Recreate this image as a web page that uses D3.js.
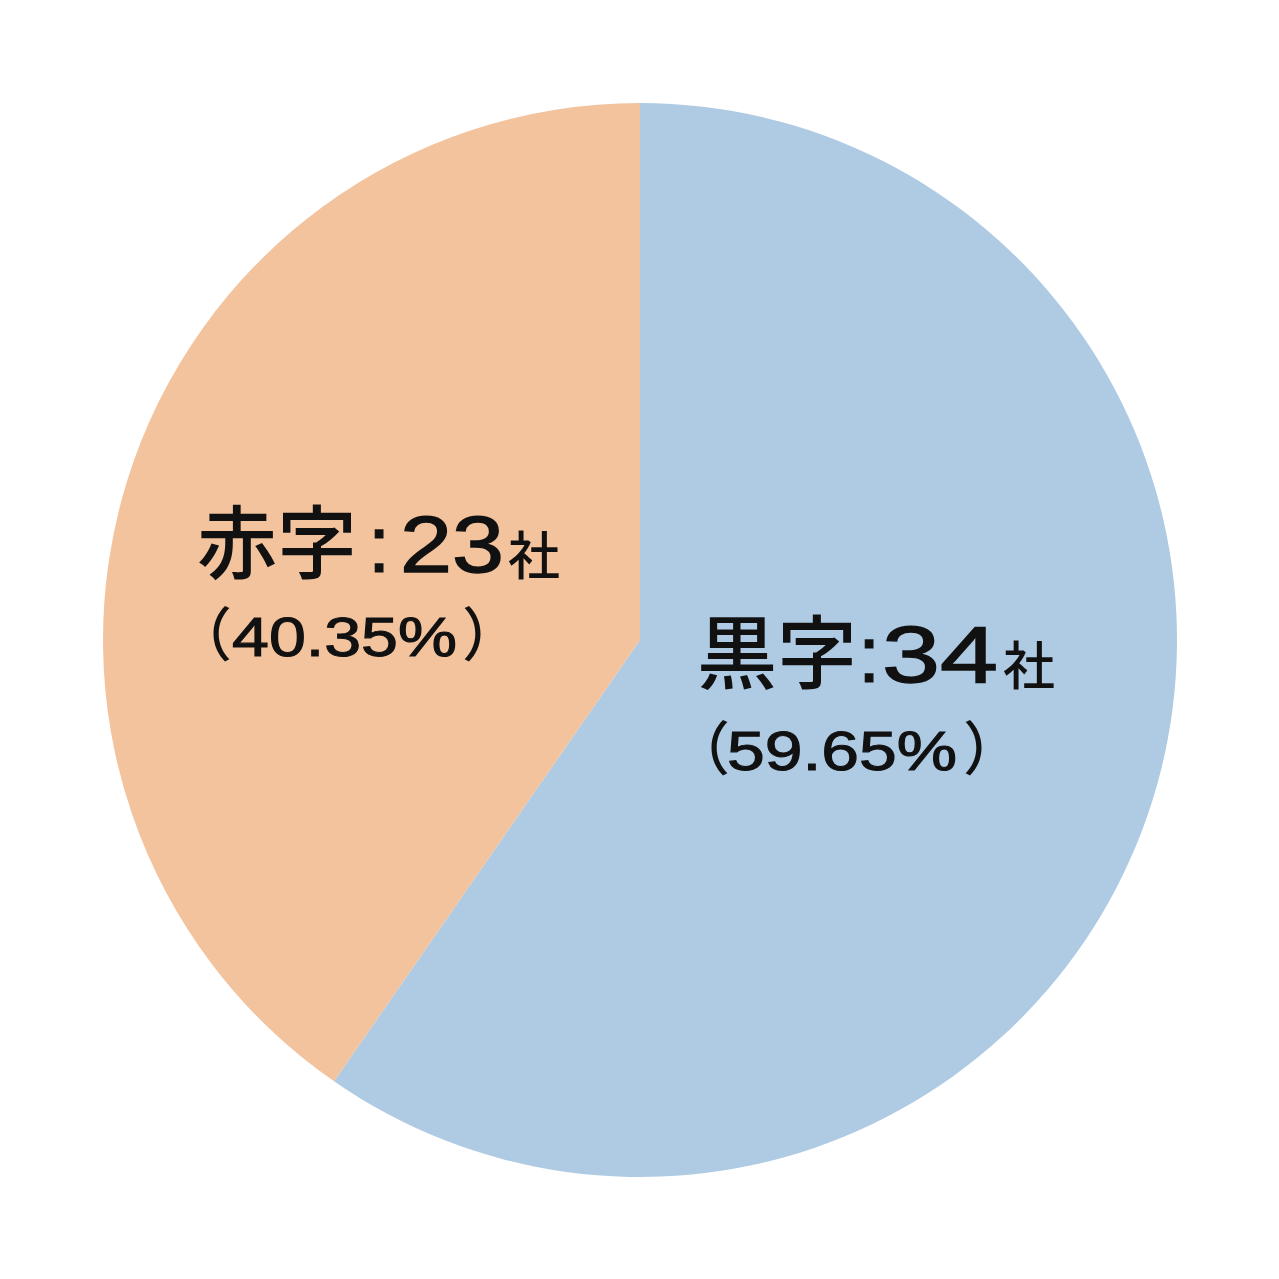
<!DOCTYPE html>
<html><head><meta charset="utf-8">
<script src="https://cdn.jsdelivr.net/npm/d3@7"></script>
<style>html,body{margin:0;padding:0;background:#fff;}svg{display:block;}</style>
</head><body>
<script>
const categories = ["黒字", "赤字"];
const counts = [34, 23];
const percents = ["59.65%", "40.35%"];
const unit = "社";
const colors = ["#AFCBE4", "#F3C39D"];

const W = 1279, H = 1279, cx = 640, cy = 640, R = 537;
const svg = d3.select("body").append("svg").attr("width", W).attr("height", H);
const g = svg.append("g").attr("transform", `translate(${cx},${cy})`);

const pie = d3.pie().sort(null).value(d => d)(counts);
const arc = d3.arc().innerRadius(0).outerRadius(R);
g.selectAll("path").data(pie).join("path")
  .attr("d", arc).attr("fill", (d, i) => colors[i]);

// label layout (relative to chart centre): left edge of first glyph, baselines
const layout = [
  {x: 57, y1: 42, y2: 130, colon: 218, num: 242, numLen: 116, sha: 363, p1: 90, pct: 87, pctLen: 230, p2: 323},
  {x: -443, y1: -68, y2: 16, colon: -272, num: -240, numLen: 104, sha: -132, p1: -408, pct: -408, pctLen: 225, p2: -178}
];
const CJK = "'Noto Sans CJK JP', sans-serif";
const LAT = "'Liberation Sans', Arial, sans-serif";
const INK = "#111";
const labels = g.selectAll("g.lab").data(pie).join("g").attr("class", "lab");
labels.each(function(d, i) {
  const L = layout[i], s = d3.select(this);
  s.append("text").attr("x", L.x).attr("y", L.y1).attr("fill", INK).attr("font-weight", 500)
    .attr("font-family", CJK).attr("font-size", 80).text(categories[i]);
  s.append("text").attr("x", L.colon).attr("y", L.y1).attr("fill", INK)
    .attr("font-family", LAT).attr("font-size", 80).attr("stroke", INK).attr("stroke-width", 1.2).text(":");
  s.append("text").attr("x", L.num).attr("y", L.y1).attr("font-family", LAT).attr("font-size", 80)
    .attr("fill", INK).attr("stroke", INK).attr("stroke-width", 1.4)
    .attr("textLength", L.numLen).attr("lengthAdjust", "spacingAndGlyphs")
    .text(String(d.data));
  s.append("text").attr("x", L.sha).attr("y", L.y1 + 3).attr("font-family", CJK).attr("font-size", 52)
    .attr("font-weight", 500).attr("fill", INK).text(unit);
  s.append("text").attr("x", L.p1).attr("y", L.y2).attr("text-anchor", "end")
    .attr("font-family", CJK).attr("font-weight", 500).attr("font-size", 58).attr("fill", INK).text("（");
  s.append("text").attr("x", L.pct).attr("y", L.y2).attr("font-family", LAT).attr("font-size", 56)
    .attr("fill", INK).attr("stroke", INK).attr("stroke-width", 1.1)
    .attr("textLength", L.pctLen).attr("lengthAdjust", "spacingAndGlyphs")
    .text(percents[i]);
  s.append("text").attr("x", L.p2).attr("y", L.y2).attr("font-family", CJK).attr("font-weight", 500)
    .attr("font-size", 58).attr("fill", INK).text("）");
});
</script>
</body></html>
